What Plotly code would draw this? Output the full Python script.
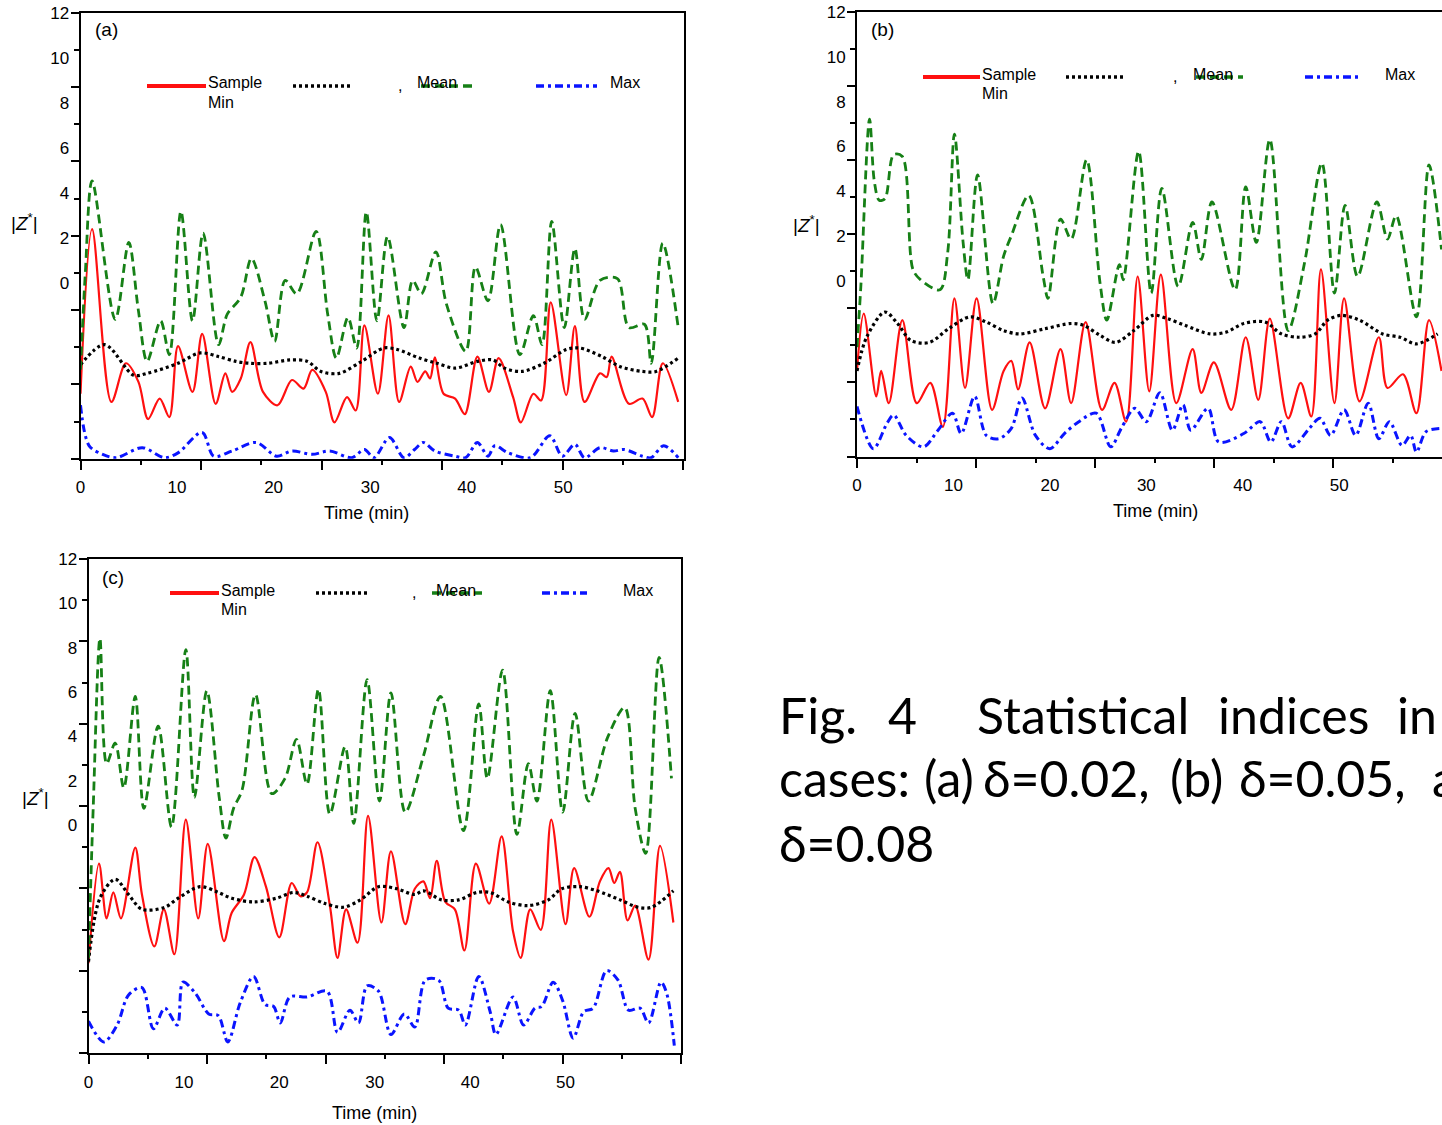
import plotly.graph_objects as go

W, H = 1442, 1125

# ---------------- data (time in min, |Z*| in axis units) ----------------
A_red = [(0,1.75),(1.2,6.18),(3.2,1.53),(4.7,2.57),(6.0,2.07),(7.0,1.07),(8.2,1.62),(9.2,1.12),(10.1,3.03),(11.6,1.8),
         (12.6,3.36),(14.0,1.48),(15.0,2.3),(15.7,1.8),(16.6,2.16),(17.6,3.14),(18.9,1.8),(20.4,1.44),(21.9,2.12),(23.1,1.89),
         (24.0,2.39),(25.4,1.8),(26.3,0.98),(27.6,1.66),(28.5,1.3),(29.4,3.59),(30.8,1.75),(31.9,3.86),(33.0,1.53),(34.2,2.48),
         (34.9,2.07),(35.7,2.35),(36.2,2.16),(36.7,2.73),(37.6,1.75),(38.8,1.62),(39.8,1.2),(41.1,2.75),(42.3,1.8),(43.3,2.71),
         (44.8,1.66),(45.6,0.98),(46.9,1.75),(47.7,1.57),(48.7,4.21),(50.3,1.71),(51.2,3.57),(52.2,1.53),(53.8,2.3),(54.5,2.2),
         (55.0,2.75),(56.8,1.48),(58.2,1.62),(59.2,1.12),(60.3,2.57),(61.9,1.53)]
A_mean = [(0,2.53),(2.5,3.07),(5.5,2.25),(6.9,2.3),(10.1,2.57),(12.4,2.85),(14.3,2.75),(16.1,2.62),(17.5,2.57),(19.4,2.57),
          (21.7,2.66),(23.5,2.62),(24.9,2.35),(26.8,2.3),(29.1,2.62),(31.4,2.98),(32.8,2.94),(35.1,2.71),(36.9,2.57),(38.8,2.44),
          (41.1,2.62),(42.7,2.66),(43.9,2.44),(45.7,2.35),(48.0,2.57),(50.3,2.94),(51.7,2.98),(54.0,2.75),(55.9,2.48),(58.2,2.35),
          (59.6,2.35),(61.9,2.71)]
A_green = [(0,2.4),(0.5,5.0),(1.2,7.48),(3.6,3.75),(5.0,5.82),(6.0,3.98),(6.9,2.62),(8.3,3.71),(9.2,2.8),(10.4,6.66),
           (11.6,3.71),(12.7,6.07),(14.3,3.07),(15.2,3.89),(16.6,4.35),(17.7,5.39),(19.1,4.25),(20.1,3.16),(21.2,4.8),(22.4,4.44),
           (24.4,6.12),(25.6,3.89),(26.5,2.71),(27.7,3.8),(28.6,2.98),(29.6,6.64),(30.7,3.71),(31.8,5.98),(33.5,3.53),(34.4,4.8),
           (35.3,4.44),(36.8,5.57),(37.9,4.16),(39.9,2.89),(40.9,5.16),(42.2,4.25),(43.5,6.3),(45.5,2.8),(46.9,3.85),(47.8,3.07),
           (48.8,6.39),(50.1,3.53),(51.2,5.66),(52.2,3.75),(53.8,4.8),(55.6,4.85),(56.8,3.53),(58.4,3.62),(59.1,2.57),(60.3,5.8),
           (61.9,3.53)]
A_blue = [(0,1.44),(0.9,0.35),(2.3,0.12),(3.7,0.03),(6.4,0.3),(8.7,0.03),(10.1,0.16),(12.6,0.71),(13.8,0.07),(15.7,0.21),
          (18.2,0.44),(20.3,0.07),(21.9,0.21),(24.0,0.12),(25.8,0.21),(28.1,0.03),(29.4,0.25),(30.4,0.03),(32.0,0.57),(33.5,0.03),
          (34.6,0.25),(35.5,0.44),(36.7,0.21),(38.8,0.07),(39.9,0.03),(41.1,0.44),(42.2,0.07),(42.9,0.35),(44.3,0.16),(46.6,0.03),
          (48.6,0.62),(49.9,0.07),(51.2,0.39),(52.2,0.03),(53.8,0.3),(55.2,0.21),(56.3,0.25),(58.2,0.07),(59.1,0.03),(60.4,0.35),
          (61.9,0.03)]

B_red = [(0,2.31),(0.7,3.86),(2.0,1.62),(2.5,2.31),(3.3,1.44),(4.7,3.68),(6.2,1.44),(7.6,1.99),(8.9,0.8),(10.1,4.27),
         (11.2,1.85),(12.4,4.27),(14.0,1.26),(15.2,2.31),(16.0,2.58),(16.7,1.81),(17.9,3.08),(19.5,1.3),(21.1,2.9),(22.2,1.44),
         (23.7,3.63),(25.4,1.26),(26.7,1.99),(27.9,0.94),(29.1,4.86),(30.3,1.76),(31.5,4.91),(33.1,1.44),(34.8,2.9),(35.7,1.72),
         (37.0,2.54),(38.8,1.26),(40.3,3.22),(41.6,1.53),(42.8,3.72),(44.7,1.03),(46.0,1.99),(47.1,1.08),(48.1,5.05),(49.5,1.44),
         (50.5,4.27),(52.1,1.49),(54.1,3.22),(55.0,1.85),(56.6,2.22),(58.0,1.17),(59.3,3.68),(60.6,2.31)]
B_mean = [(0,2.31),(1.0,3.22),(2.9,3.9),(4.2,3.59),(5.6,3.13),(7.5,3.08),(9.5,3.45),(11.7,3.77),(13.4,3.63),(15.2,3.4),
          (16.9,3.31),(19.5,3.45),(22.2,3.59),(23.5,3.54),(25.2,3.27),(26.8,3.08),(28.7,3.4),(30.7,3.81),(32.2,3.72),(34.0,3.54),
          (36.6,3.31),(38.3,3.36),(40.1,3.59),(42.3,3.63),(44.0,3.31),(45.8,3.22),(47.5,3.31),(48.8,3.68),(50.2,3.81),(52.1,3.68),
          (54.5,3.31),(56.3,3.22),(58.0,3.04),(60.2,3.31)]
B_green = [(0,2.95),(0.4,4.6),(1.3,9.11),(1.8,7.42),(2.3,6.92),(2.9,6.96),(3.8,8.15),(4.7,8.1),(5.8,5.05),(6.6,4.77),
           (8.6,4.5),(9.4,5.5),(10.1,8.7),(11.0,5.78),(11.5,4.77),(12.5,7.6),(14.1,4.13),(15.2,5.41),(16.0,5.96),(17.8,7.05),
           (19.3,4.86),(19.8,4.27),(21.1,6.41),(22.2,5.87),(23.8,8.01),(25.2,4.68),(25.9,3.68),(27.2,5.18),(27.6,4.77),(29.2,8.24),
           (30.5,4.41),(31.6,7.24),(33.3,4.59),(34.8,6.32),(35.7,5.32),(36.8,6.87),(39.2,4.5),(40.3,7.28),(41.4,5.78),(42.8,8.56),
           (44.7,3.4),(46.4,5.23),(48.2,7.92),(49.5,4.41),(50.6,6.78),(51.9,4.86),(53.9,6.87),(55.0,5.87),(55.9,6.5),(58.0,3.77),
           (59.3,7.87),(60.6,5.59)]
B_blue = [(0,1.35),(1.7,0.21),(3.1,0.89),(3.8,1.12),(5.1,0.57),(6.9,0.26),(8.4,0.71),(9.9,1.17),(10.8,0.62),(12.2,1.62),
          (13.4,0.57),(14.7,0.48),(16.0,0.76),(17.1,1.58),(18.5,0.57),(20.0,0.21),(21.5,0.62),(23.0,0.94),(24.8,1.17),(26.3,0.26),
          (27.4,0.76),(28.8,1.3),(30.0,0.94),(31.4,1.72),(32.7,0.71),(33.8,1.4),(34.6,0.71),(36.4,1.3),(37.5,0.39),(40.1,0.62),
          (41.8,0.94),(42.9,0.39),(44.0,0.94),(45.1,0.26),(46.9,0.76),(48.0,1.03),(49.1,0.57),(50.5,1.26),(51.7,0.57),(53.0,1.44),
          (54.1,0.48),(55.2,0.94),(56.5,0.3),(57.4,0.57),(58.0,0.12),(59.0,0.67),(60.6,0.76)]

C_red = [(0,2.18),(1.1,4.6),(1.9,3.27),(2.6,3.9),(3.4,3.27),(4.9,4.99),(5.6,3.85),(6.9,2.59),(7.9,3.49),(9.0,2.4),
         (10.2,5.67),(11.5,3.27),(12.5,5.08),(14.2,2.72),(15.0,3.4),(16.3,3.85),(17.4,4.76),(18.6,4.04),(20.0,2.81),(21.3,4.13),
         (22.2,3.81),(22.9,3.9),(24.0,5.12),(25.3,3.58),(26.1,2.31),(27.0,3.49),(28.2,2.68),(29.3,5.76),(30.7,3.17),(31.7,4.9),
         (33.2,3.13),(34.2,3.99),(35.1,4.17),(35.8,3.76),(36.5,4.67),(37.4,3.67),(38.4,3.49),(39.4,2.49),(40.6,4.6),(42.0,3.63),
         (43.3,5.26),(44.5,2.95),(45.3,2.31),(46.3,3.49),(47.4,2.99),(48.5,5.67),(50.0,3.13),(50.9,4.49),(52.5,3.31),(53.6,4.17),
         (54.5,4.49),(55.1,4.13),(55.7,4.4),(56.5,3.22),(57.3,3.58),(58.7,2.27),(59.9,5.03),(61.3,3.17)]
C_mean = [(0,2.22),(1.2,3.76),(2.8,4.22),(4.2,3.85),(5.6,3.49),(8.0,3.54),(9.4,3.76),(11.7,4.04),(13.6,3.9),(15.0,3.76),
          (17.3,3.67),(19.7,3.76),(21.5,3.9),(22.9,3.81),(24.8,3.63),(26.7,3.54),(28.5,3.72),(30.4,4.04),(32.3,3.99),(34.2,3.85),
          (35.1,3.94),(37.0,3.72),(38.8,3.72),(40.7,3.9),(42.1,3.9),(44.0,3.67),(46.1,3.58),(48.2,3.72),(49.6,3.99),(51.5,4.04),
          (53.3,3.94),(55.7,3.72),(57.6,3.54),(59.0,3.54),(61.3,3.94)]
C_green = [(0,2.3),(0.5,6.0),(1.2,10.07),(1.9,7.03),(2.8,7.53),(3.7,6.44),(4.9,8.66),(5.8,5.94),(7.3,7.94),(8.7,5.49),
           (10.2,9.8),(11.1,6.21),(12.4,8.8),(13.7,6.21),(14.4,5.22),(15.2,5.94),(16.1,6.39),(17.5,8.71),(19.2,6.3),(20.6,6.67),
           (21.8,7.62),(22.9,6.53),(24.1,8.84),(25.3,5.8),(26.9,7.44),(27.8,5.58),(29.2,9.07),(30.5,6.12),(31.7,8.75),(33.2,5.85),
           (35.1,7.21),(36.9,8.66),(39.3,5.4),(40.9,8.48),(41.8,6.67),(43.4,9.3),(44.9,5.31),(46.1,7.03),(47.0,6.12),(48.4,8.8),
           (49.7,5.85),(51.0,8.25),(52.4,6.12),(54.4,7.66),(56.2,8.39),(57.3,5.94),(58.4,4.85),(59.8,9.61),(61.1,6.67)]
C_blue = [(0,0.77),(1.6,0.27),(3.0,0.68),(4.2,1.41),(5.6,1.59),(6.8,0.59),(8.0,1.09),(9.3,0.68),(9.9,1.72),(11.2,1.45),
          (12.6,0.95),(13.6,0.91),(14.6,0.27),(15.9,1.22),(17.3,1.86),(18.5,1.18),(19.4,1.13),(20.1,0.73),(21.1,1.36),(22.9,1.36),
          (25.0,1.5),(26.1,0.5),(27.4,1.04),(28.3,0.73),(29.2,1.63),(30.4,1.5),(31.7,0.45),(33.1,0.95),(34.2,0.63),(35.3,1.77),
          (36.7,1.77),(37.7,1.09),(38.8,1.04),(39.5,0.68),(40.9,1.86),(42.1,1.0),(42.7,0.45),(44.5,1.36),(45.6,0.68),(46.8,1.09),
          (47.5,1.13),(48.7,1.72),(49.7,1.27),(50.8,0.36),(51.9,1.0),(52.9,1.09),(54.3,2.0),(55.5,1.77),(56.6,1.04),(57.8,1.09),
          (58.7,0.73),(60.0,1.72),(60.6,1.45),(61.4,0.18)]

X_TICKLABELS = [0, 10, 20, 30, 40, 50]
Y_TICKLABELS = [0, 2, 4, 6, 8, 10, 12]
LEGEND_TEXT = ["Sample", "Min", ",", "Mean", "Max"]
PANEL_LABELS = ["(a)", "(b)", "(c)"]
X_TITLE = "Time (min)"
CAPTION_WORDS_1 = ["Fig.", "4", "Statistical", "indices", "in"]
CAPTION_HEAD_2 = "cases:"
CAPTION_WORDS_2 = ["(a)", "δ=0.02,", "(b)", "δ=0.05,"]
CAPTION_TAIL_2 = "and"
CAPTION_3 = "δ=0.08"

# ---------------- styling ----------------
FONT = "Liberation Sans"
STY = {
    "red": dict(color="#ff1010", width=2.2, dash="solid"),
    "mean": dict(color="#000000", width=3.2, dash="3px,3px"),
    "green": dict(color="#168016", width=2.8, dash="9px,5px"),
    "blue": dict(color="#0a14ff", width=3.0, dash="8px,4px,3px,4px"),
}

def X(px):
    return px / W

def Y(py):
    return 1 - py / H

panels = [
    dict(name="a", sx="", L=80.5, R=684, T=12.8, B=458.8, xr=62.5, ylab_lo=-7.81, mirror_y=True,
         data=(A_red, A_mean, A_green, A_blue), xtl=12, title=(366, 513),
         leg=dict(y=86, red=(147, 206), blk=(293, 352), comma=400, mean=415, grn=(421, 473), blu=(536, 597), mx=608),
         plabel=(106, 29), ztitle=(24, 222)),
    dict(name="b", sx="2", L=857, R=1442, T=12, B=456.5, xr=60.65, ylab_lo=-7.83, mirror_y=False,
         data=(B_red, B_mean, B_green, B_blue), xtl=12, title=(1155, 511),
         leg=dict(y=77, red=(923, 980), blk=(1066, 1125), comma=1175, mean=1191, grn=(1196, 1243), blu=(1305, 1362), mx=1383),
         plabel=(883, 29), ztitle=(806, 224)),
    dict(name="c", sx="3", L=88.5, R=681, T=559, B=1053, xr=62.1, ylab_lo=-10.28, mirror_y=True,
         data=(C_red, C_mean, C_green, C_blue), xtl=13, title=(374, 1113),
         leg=dict(y=593, red=(170, 219), blk=(316, 367), comma=414, mean=434, grn=(432, 482), blu=(542, 587), mx=621),
         plabel=(113, 577), ztitle=(35, 797)),
]
TICK_STEP = {"a": 62.4 / 10, "b": 6.17, "c": 62.1 / 10}

fig = go.Figure()
layout = dict(width=W, height=H, margin=dict(l=0, r=0, t=0, b=0, pad=0, autoexpand=False),
              paper_bgcolor="white", plot_bgcolor="white", showlegend=False,
              font=dict(family=FONT, color="black"))
shapes, annos = [], []

for i, p in enumerate(panels):
    xs = p["sx"]
    xm = str(4 + i)
    xa, ya = "x" + xs, "y" + xs
    for series, key in zip(p["data"], ["red", "mean", "green", "blue"]):
        st = STY[key]
        fig.add_trace(go.Scatter(x=[t for t, v in series], y=[v for t, v in series], mode="lines",
                                 line=dict(color=st["color"], width=st["width"], dash=st["dash"],
                                           shape="spline", smoothing=0.9),
                                 xaxis=xa, yaxis=ya, hoverinfo="skip"))
    fig.add_trace(go.Scatter(x=[None], y=[None], xaxis="x" + xm, yaxis=ya, hoverinfo="skip"))
    fig.add_trace(go.Scatter(x=[None], y=[None], xaxis=xa, yaxis="y" + xm, hoverinfo="skip"))

    step = TICK_STEP[p["name"]]
    ticks_even = [k * step for k in range(0, 11, 2)]
    ticks_odd = [k * step for k in range(1, 11, 2)]
    xdom = [X(p["L"]), min(1.0, X(p["R"]))]
    ydom = [Y(p["B"]), Y(p["T"])]

    layout["xaxis" + xs] = dict(domain=xdom, range=[0, p["xr"]], anchor=ya, showline=True, linewidth=2,
                                linecolor="black", mirror=True, ticks="outside", ticklen=p["xtl"],
                                tickcolor="rgba(0,0,0,0)", tickvals=X_TICKLABELS,
                                ticktext=[str(v) for v in X_TICKLABELS], tickfont=dict(size=17),
                                showgrid=False, zeroline=False, automargin=False)
    layout["xaxis" + xm] = dict(overlaying=xa, anchor=ya, range=[0, p["xr"]], showline=False, showgrid=False,
                                zeroline=False, showticklabels=False, ticks="outside", ticklen=10, tickwidth=2,
                                tickcolor="black", tickvals=ticks_even, automargin=False,
                                minor=dict(tickvals=ticks_odd, ticks="outside", ticklen=5, tickwidth=2,
                                           tickcolor="black", showgrid=False))
    layout["yaxis" + xs] = dict(domain=ydom, range=[0, 12], anchor=xa, showline=True, linewidth=2,
                                linecolor="black", mirror=p["mirror_y"], ticks="outside", ticklen=8, tickwidth=2,
                                tickcolor="black", tickvals=list(range(0, 13, 2)), showticklabels=False,
                                minor=dict(tickvals=list(range(1, 13, 2)), ticks="outside", ticklen=5,
                                           tickwidth=2, tickcolor="black", showgrid=False),
                                showgrid=False, zeroline=False, automargin=False)
    layout["yaxis" + xm] = dict(overlaying=ya, anchor=xa, side="left", range=[p["ylab_lo"], 12],
                                showline=False, showgrid=False, zeroline=False, ticks="outside", ticklen=7,
                                tickcolor="rgba(0,0,0,0)", tickvals=Y_TICKLABELS, automargin=False,
                                ticktext=[str(v) for v in Y_TICKLABELS], tickfont=dict(size=17))

    lg = p["leg"]
    ly = Y(lg["y"])
    for (x0, x1), key in [(lg["red"], "red"), (lg["blk"], "mean"), (lg["grn"], "green"), (lg["blu"], "blue")]:
        st = STY[key]
        shapes.append(dict(type="line", xref="paper", yref="paper", x0=X(x0), x1=X(x1), y0=ly, y1=ly,
                           line=dict(color=st["color"], width=3.5 if key != "red" else 4,
                                     dash=st["dash"] if key != "red" else "solid")))
    tfont = dict(size=16, family=FONT, color="black")
    new = [
        dict(x=X(lg["red"][1]), y=Y(lg["y"] - 3), text=LEGEND_TEXT[0], xanchor="left", yanchor="middle"),
        dict(x=X(lg["red"][1]), y=Y(lg["y"] + 16), text=LEGEND_TEXT[1], xanchor="left", yanchor="middle"),
        dict(x=X(lg["comma"]), y=Y(lg["y"] - 1), text=LEGEND_TEXT[2], xanchor="center", yanchor="middle"),
        dict(x=X(lg["mean"]), y=Y(lg["y"] - 3), text=LEGEND_TEXT[3], xanchor="left", yanchor="middle"),
        dict(x=X(lg["mx"]), y=Y(lg["y"] - 3), text=LEGEND_TEXT[4], xanchor="left", yanchor="middle"),
    ]
    for a in new:
        a.update(xref="paper", yref="paper", showarrow=False, font=tfont)
    annos += new
    annos.append(dict(x=X(p["plabel"][0]), y=Y(p["plabel"][1]), xref="paper", yref="paper", showarrow=False,
                      text=PANEL_LABELS[i], font=dict(size=19, family=FONT), xanchor="center", yanchor="middle"))
    annos.append(dict(x=X(p["ztitle"][0]), y=Y(p["ztitle"][1]), xref="paper", yref="paper", showarrow=False,
                      text="|<i>Z</i><sup>*</sup>|", font=dict(size=19, family=FONT),
                      xanchor="center", yanchor="middle"))
    annos.append(dict(x=X(p["title"][0]), y=Y(p["title"][1]), xref="paper", yref="paper", showarrow=False,
                      text=X_TITLE, font=dict(size=18, family=FONT), xanchor="center", yanchor="middle"))

# caption, justified like the reference (words placed individually)
cap_font = dict(size=50, family="Lato", color="black")
for word, x0 in zip(CAPTION_WORDS_1, [777, 886, 975, 1216, 1395]):
    annos.append(dict(x=X(x0), y=Y(715), xref="paper", yref="paper", showarrow=False, text=word,
                      xanchor="left", yanchor="middle", font=cap_font))
annos.append(dict(x=X(777), y=Y(778), xref="paper", yref="paper", showarrow=False, text=CAPTION_HEAD_2,
                  xanchor="left", yanchor="middle", font=cap_font))
for word, xc in zip(CAPTION_WORDS_2, [949, 1066, 1196, 1322]):
    annos.append(dict(x=X(xc), y=Y(778), xref="paper", yref="paper", showarrow=False, text=word,
                      xanchor="center", yanchor="middle", font=cap_font))
annos.append(dict(x=X(1430), y=Y(778), xref="paper", yref="paper", showarrow=False, text=CAPTION_TAIL_2,
                  xanchor="left", yanchor="middle", font=cap_font))
annos.append(dict(x=X(777), y=Y(843), xref="paper", yref="paper", showarrow=False, text=CAPTION_3,
                  xanchor="left", yanchor="middle", font=cap_font))

layout["shapes"] = shapes
layout["annotations"] = annos
fig.update_layout(**layout)

fig.write_html("out.html", config={"displayModeBar": False},
               post_script="document.body.style.margin='0';document.body.style.overflow='hidden';")
